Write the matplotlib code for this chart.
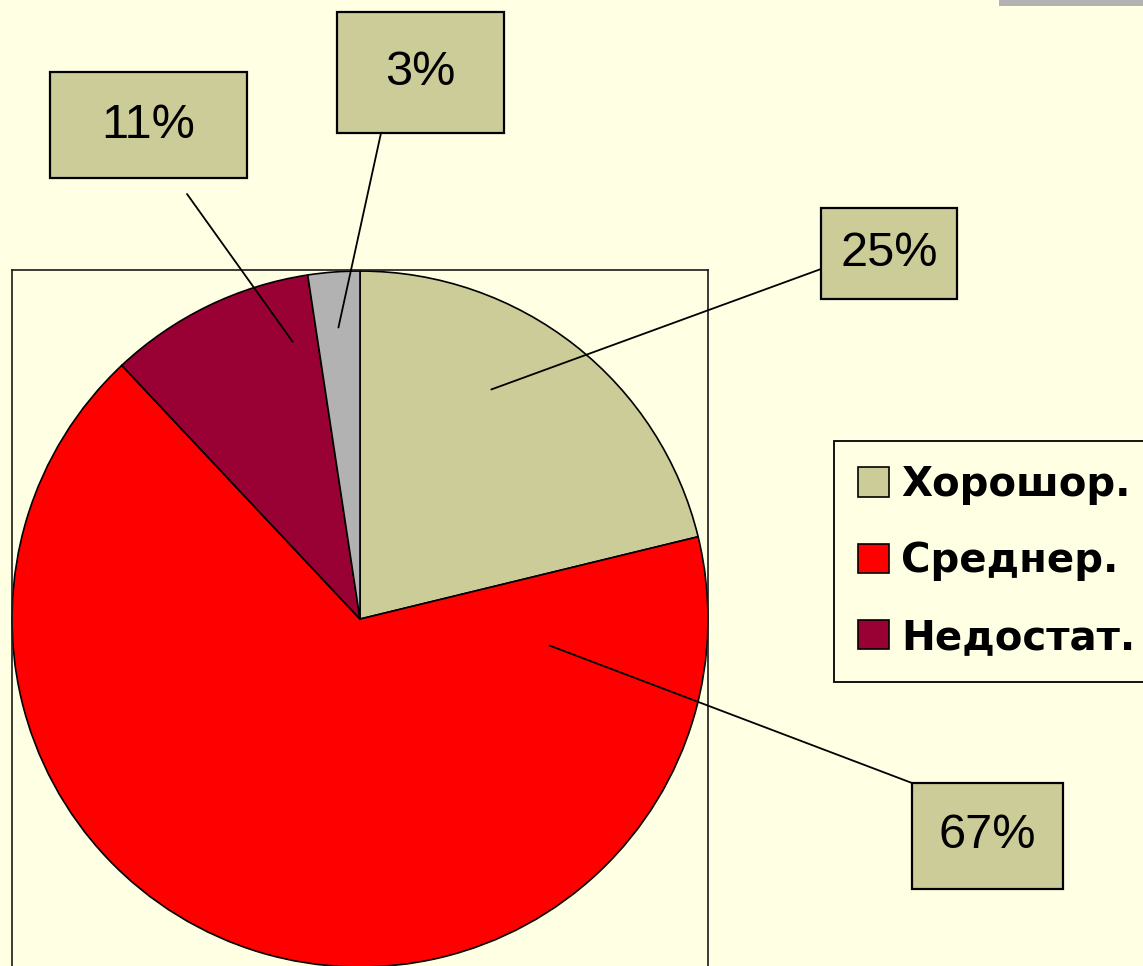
import matplotlib.pyplot as plt
from matplotlib.patches import Rectangle, ConnectionPatch
import numpy as np

# slice sizes as drawn (clockwise from 12 o'clock) and the printed labels
shares = [21.2, 66.8, 9.6, 2.4]
pct_labels = ['25%', '67%', '11%', '3%']
legend_names = ['Хорошор.', 'Среднер.', 'Недостат.']
colors = ['#CCCC99', '#FF0000', '#990033', '#B2B2B2']

W, H = 1143, 966
bg = '#FFFFE3'

plt.rcParams['font.family'] = ['Liberation Sans', 'DejaVu Sans']

fig = plt.figure(figsize=(W / 100, H / 100), dpi=100, facecolor=bg)


def fx(x):
    return x / W


def fy(y):
    return 1 - y / H


# plot area: frame 12..708 px wide, top at 270 px, runs past the bottom edge
ax = fig.add_axes([fx(12), fy(970), 696 / W, 700 / H])
ax.set_facecolor(bg)
wedges, _ = ax.pie(shares, colors=colors, startangle=90, counterclock=False,
                   radius=1, frame=True,
                   wedgeprops=dict(edgecolor='black', linewidth=1.2))
ax.set_aspect('auto')
ax.set_xlim(-1, 1)
ax.set_ylim(1.003 - 700 / 348, 1.003)
ax.set_xticks([])
ax.set_yticks([])
for side, sp in ax.spines.items():
    sp.set_color('#1a1a1a')
    sp.set_linewidth(1.2)
ax.spines['bottom'].set_visible(False)

# label boxes (px: left, top, right, bottom), leader start (px),
# and leader end given as (fraction across wedge angle, radius)
boxes = [(821, 208, 957, 299), (912, 783, 1063, 889),
         (50, 72, 247, 178), (337, 12, 504, 133)]
leader_start = [(821, 269), (912, 783), (187, 194), (381, 133)]
leader_end = [(0.61, 0.76), (0.91, 0.55), (0.145, 0.82), (0.49, 0.84)]

for w, lab, (l, t, r, b), (sx, sy), (f, rr) in zip(
        wedges, pct_labels, boxes, leader_start, leader_end):
    fig.add_artist(Rectangle((fx(l), fy(b)), (r - l) / W, (b - t) / H,
                             transform=fig.transFigure, facecolor='#CCCC99',
                             edgecolor='black', linewidth=1.6))
    fig.text(fx((l + r) / 2), fy((t + b) / 2), lab, fontsize=35,
             ha='center', va='center', color='black')
    ang = np.deg2rad(w.theta1 + f * (w.theta2 - w.theta1))
    con = ConnectionPatch(xyA=(fx(sx), fy(sy)), coordsA=fig.transFigure,
                          xyB=(rr * np.cos(ang), rr * np.sin(ang)),
                          coordsB=ax.transData, color='black', linewidth=1.3)
    fig.add_artist(con)

leg = fig.legend(wedges[:3], legend_names, loc='upper left',
                 bbox_to_anchor=(fx(834), fy(441)), borderaxespad=0,
                 prop=dict(family='DejaVu Sans', weight='bold', size=29),
                 frameon=True, fancybox=False, framealpha=1,
                 facecolor=bg, edgecolor='black',
                 handlelength=0.77, handleheight=0.75, handletextpad=0.3,
                 labelspacing=0.9, borderpad=0.6)
leg.get_frame().set_linewidth(1.3)

# grey strip cut off at the top right
fig.add_artist(Rectangle((fx(999), fy(6)), (W - 999) / W, 6 / H,
                         transform=fig.transFigure, facecolor='#B2B2B2',
                         edgecolor='none'))

fig.savefig('out.png', dpi=100, facecolor=bg)
